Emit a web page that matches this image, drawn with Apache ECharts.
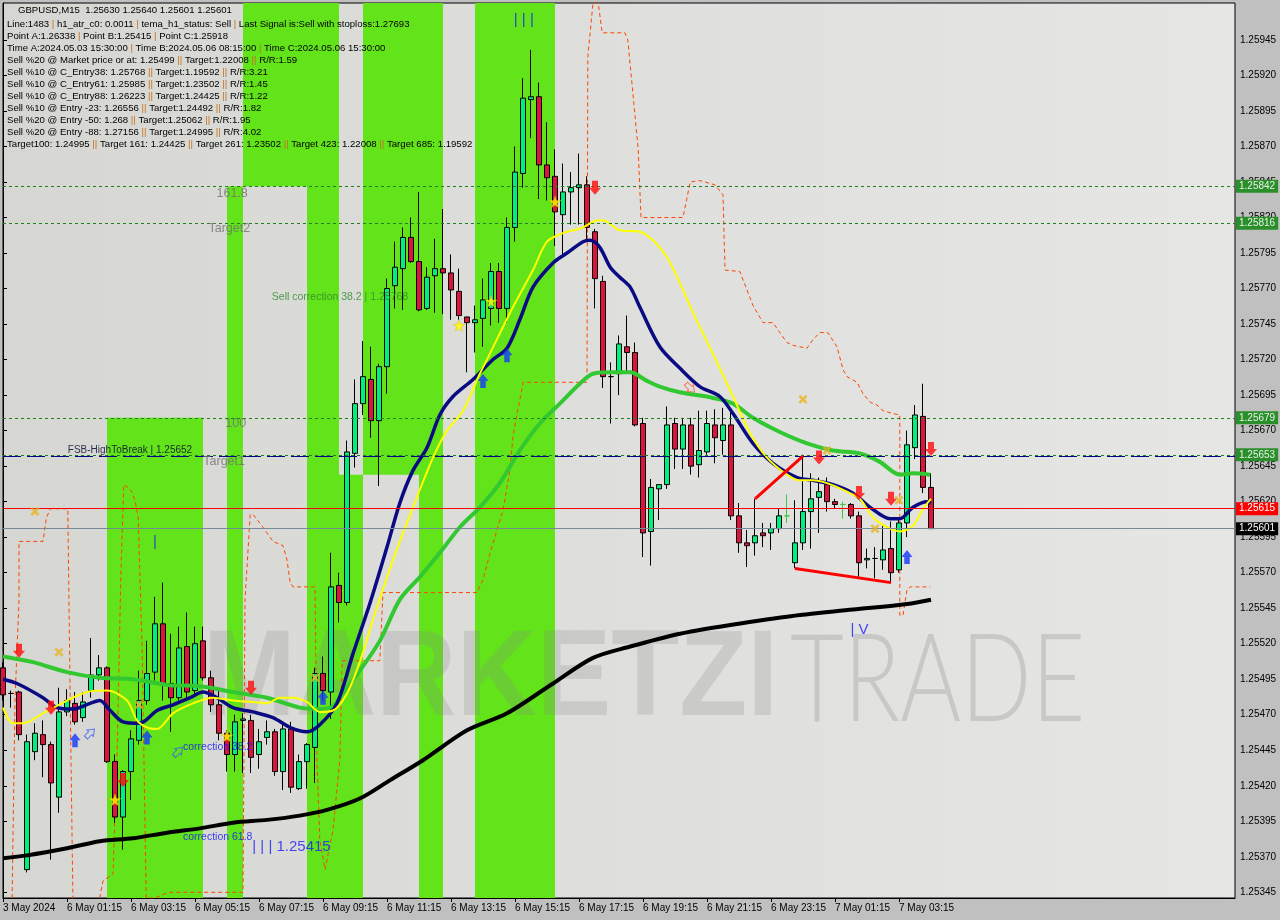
<!DOCTYPE html>
<html><head><meta charset="utf-8">
<script src="https://cdn.jsdelivr.net/npm/echarts@6/dist/echarts.min.js"></script>
<style>html,body{margin:0;padding:0;background:#c0c0c0}#c{width:1280px;height:920px}</style>
</head><body><div id="c"></div>
<script>
// ---------------- DATA ----------------
const yMin = 1.25341, yMax = 1.25971;
const nSlots = 155;
const tickLabels = ['3 May 2024','6 May 01:15','6 May 03:15','6 May 05:15','6 May 07:15','6 May 09:15','6 May 11:15','6 May 13:15','6 May 15:15','6 May 17:15','6 May 19:15','6 May 21:15','6 May 23:15','7 May 01:15','7 May 03:15'];
const priceTicks = [1.25345,1.2537,1.25395,1.2542,1.25445,1.2547,1.25495,1.2552,1.25545,1.2557,1.25595,1.2562,1.25645,1.2567,1.25695,1.2572,1.25745,1.2577,1.25795,1.2582,1.25845,1.2587,1.25895,1.2592,1.25945];

const openP = [1.25503,1.25485,1.25486,1.25361,1.25444,1.25456,1.25449,1.25412,1.25472,1.25478,1.25468,1.25487,1.25498,1.25503,1.25437,1.25398,1.25430,1.25452,1.25480,1.25500,1.25534,1.25492,1.25482,1.25518,1.25487,1.25522,1.25496,1.25477,1.25457,1.25442,1.25466,1.25466,1.25442,1.25454,1.25458,1.25430,1.25460,1.25418,1.25437,1.25447,1.25499,1.25486,1.25561,1.25549,1.25654,1.25689,1.25706,1.25677,1.25715,1.25772,1.25784,1.25806,1.25789,1.25756,1.25779,1.25784,1.25781,1.25768,1.25750,1.25746,1.25749,1.25756,1.25782,1.25756,1.25813,1.25851,1.25903,1.25905,1.25857,1.25849,1.25822,1.25838,1.25841,1.25843,1.25810,1.25775,1.25708,1.25710,1.25729,1.25725,1.25675,1.25599,1.25629,1.25632,1.25675,1.25657,1.25674,1.25646,1.25655,1.25674,1.25663,1.25674,1.25610,1.25591,1.25591,1.25598,1.25598,1.25601,1.25610,1.25577,1.25591,1.25613,1.25623,1.25632,1.25620,1.25618,1.25618,1.25610,1.25579,1.25580,1.25579,1.25587,1.25572,1.25605,1.25658,1.25680,1.25630];
const closeP = [1.25484,1.25485,1.25456,1.25451,1.25457,1.25449,1.25422,1.25472,1.25480,1.25465,1.25479,1.25498,1.25503,1.25437,1.25398,1.25430,1.25453,1.25480,1.25499,1.25534,1.25492,1.25482,1.25517,1.25486,1.25520,1.25496,1.25477,1.25457,1.25442,1.25465,1.25467,1.25440,1.25451,1.25458,1.25430,1.25460,1.25419,1.25437,1.25449,1.25499,1.25487,1.25560,1.25549,1.25655,1.25689,1.25708,1.25677,1.25715,1.25770,1.25785,1.25806,1.25789,1.25755,1.25778,1.25784,1.25781,1.25769,1.25751,1.25746,1.25748,1.25762,1.25782,1.25756,1.25813,1.25852,1.25904,1.25905,1.25857,1.25848,1.25824,1.25838,1.25841,1.25843,1.25813,1.25777,1.25708,1.25708,1.25731,1.25725,1.25674,1.25598,1.25630,1.25632,1.25674,1.25657,1.25674,1.25645,1.25656,1.25675,1.25665,1.25674,1.25610,1.25591,1.25589,1.25596,1.25596,1.25601,1.25610,1.25610,1.25591,1.25613,1.25622,1.25627,1.25620,1.25618,1.25618,1.25610,1.25577,1.25580,1.25580,1.25586,1.25570,1.25605,1.25660,1.25681,1.25630,1.25601];
const highP = [1.25507,1.25487,1.25487,1.25456,1.25464,1.25466,1.25451,1.25489,1.25488,1.25486,1.25486,1.25524,1.25512,1.25504,1.25442,1.25431,1.25459,1.25501,1.25522,1.25553,1.25563,1.25527,1.25532,1.25542,1.25532,1.25532,1.25501,1.25487,1.25459,1.25470,1.25471,1.25470,1.25460,1.25466,1.25460,1.25463,1.25465,1.25442,1.25450,1.25503,1.25511,1.25584,1.25570,1.25663,1.25706,1.25733,1.25729,1.25717,1.25777,1.25803,1.25813,1.25820,1.25838,1.25785,1.25805,1.25826,1.25794,1.25784,1.25750,1.25758,1.25777,1.25788,1.25788,1.25820,1.25870,1.25918,1.25938,1.25915,1.25887,1.25868,1.25858,1.25852,1.25865,1.25849,1.25812,1.25779,1.25718,1.25737,1.25751,1.25732,1.25679,1.25636,1.25632,1.25687,1.25679,1.25679,1.25679,1.25684,1.25684,1.25685,1.25686,1.25684,1.25619,1.25600,1.25622,1.25605,1.25605,1.25615,1.25625,1.25621,1.25653,1.25640,1.25637,1.25637,1.25622,1.25620,1.25619,1.25613,1.25587,1.25588,1.25603,1.25606,1.25609,1.25670,1.25688,1.25703,1.25640];
const lowP = [1.25480,1.25475,1.25452,1.25359,1.25438,1.25426,1.25368,1.25401,1.25469,1.25463,1.25465,1.25482,1.25494,1.25436,1.25394,1.25375,1.25410,1.25449,1.25477,1.25494,1.25480,1.25458,1.25480,1.25482,1.25484,1.25494,1.25472,1.25452,1.25430,1.25430,1.25429,1.25429,1.25432,1.25449,1.25427,1.25417,1.25415,1.25417,1.25418,1.25422,1.25480,1.25467,1.25535,1.25547,1.25644,1.25681,1.25665,1.25631,1.25696,1.25756,1.25755,1.25788,1.25754,1.25755,1.25753,1.25752,1.25748,1.25748,1.25711,1.25725,1.25729,1.25744,1.25746,1.25746,1.25803,1.25841,1.25876,1.25833,1.25832,1.25800,1.25794,1.25815,1.25815,1.25804,1.25756,1.25700,1.25675,1.25695,1.25711,1.25673,1.25581,1.25575,1.25607,1.25629,1.25643,1.25643,1.25639,1.25637,1.25653,1.25647,1.25653,1.25607,1.25584,1.25574,1.25582,1.25588,1.25586,1.25598,1.25605,1.25573,1.25586,1.25587,1.25598,1.25613,1.25615,1.25608,1.25608,1.25567,1.25573,1.25566,1.25572,1.25563,1.25570,1.25595,1.25650,1.25626,1.25601];
const greenDoji = [98, 105];

// moving averages read at bar positions [barIndex, price]
const blueLine = [[0,1.25495],[1.75,1.25492],[5,1.25482],[6.75,1.25475],[8.75,1.25474],[10.9,1.25478],[12.1,1.25480],[13.4,1.25473],[15,1.25465],[17.1,1.25464],[19.25,1.25473],[21.25,1.25477],[23.4,1.25482],[25,1.25486],[26.75,1.25482],[28.75,1.25475],[31.25,1.25472],[33.75,1.25468],[35.9,1.25461],[38,1.25458],[39.6,1.25463],[41.75,1.25478],[43.75,1.25513],[45.9,1.25549],[48,1.25588],[49.6,1.25619],[51.25,1.25642],[53,1.25658],[54.6,1.25681],[56.25,1.25694],[58.75,1.25706],[61.25,1.25720],[63,1.25728],[64.6,1.25748],[66.25,1.25771],[68.75,1.25788],[70.5,1.25795],[72.5,1.25803],[73.4,1.25804],[74.6,1.25799],[75.9,1.25785],[77.1,1.25778],[78.4,1.25771],[79.6,1.25757],[82.1,1.25729],[84.6,1.25714],[87.1,1.25701],[89.6,1.25694],[91.25,1.25682],[93.75,1.25661],[96.25,1.25647],[99.25,1.25637],[101.25,1.25635],[103.75,1.25632],[106.25,1.25626],[108.4,1.25616],[110.9,1.25608],[112.1,1.25608],[113.75,1.25616],[115.5,1.25620],[116,1.25619]];
const yellowLine = [[0,1.25475],[1.25,1.25464],[2.5,1.25464],[5,1.25471],[8,1.25480],[10.5,1.25486],[13,1.25487],[15.5,1.25480],[16.75,1.25466],[18,1.25461],[19.25,1.25460],[21.25,1.25471],[23.75,1.25478],[26.25,1.25482],[28.75,1.25480],[31.25,1.25479],[33,1.25478],[34.6,1.25482],[36.25,1.25482],[38,1.25479],[39.6,1.25472],[41.25,1.25473],[43,1.25485],[44.6,1.25507],[46.25,1.25537],[48.75,1.25579],[51.25,1.25616],[53.75,1.25651],[55.5,1.25670],[57.5,1.25684],[59.6,1.25710],[60.5,1.25720],[63.75,1.25757],[66.25,1.25783],[68,1.25803],[70,1.25809],[72.5,1.25813],[73.75,1.25817],[75,1.25818],[77.1,1.25811],[79.6,1.25810],[81.25,1.25804],[83,1.25792],[84.6,1.25774],[86.25,1.25753],[88.75,1.25724],[91.25,1.25694],[93.4,1.25668],[95.5,1.25651],[98,1.25639],[99.6,1.25635],[101.25,1.25635],[103,1.25633],[105.5,1.25627],[107.1,1.25622],[108.75,1.25609],[110.5,1.25602],[112.1,1.25599],[113.75,1.25603],[115,1.25615],[116,1.25622]];
const greenLine = [[0,1.25511],[3.75,1.25507],[8,1.25500],[12.1,1.25496],[16.25,1.25495],[20.5,1.25491],[24.6,1.25490],[28.75,1.25486],[33,1.25482],[37.1,1.25475],[39.6,1.25474],[41.25,1.25476],[42.1,1.25482],[44.6,1.25501],[47.1,1.25522],[49.6,1.25551],[52.1,1.25567],[54.6,1.25584],[57.1,1.25602],[59.6,1.25616],[62.1,1.25633],[64.6,1.25656],[67.1,1.25675],[69.6,1.25689],[72.1,1.25703],[73.75,1.25710],[76.25,1.25711],[78.4,1.25711],[80.5,1.25705],[82.1,1.25701],[84.6,1.25697],[88.75,1.25693],[91.25,1.25689],[93.75,1.25679],[97.1,1.25669],[100.5,1.25661],[103.75,1.25656],[107.1,1.25654],[109.6,1.25648],[112.1,1.25639],[113.75,1.25640],[115.9,1.25639]];
const blackLine = [[0,1.25369],[3,1.25371],[8,1.25376],[12.1,1.25381],[16.25,1.25383],[20.5,1.25387],[24.6,1.25390],[28.75,1.25394],[33,1.25396],[37.1,1.25399],[40.5,1.25403],[44.6,1.25411],[48.4,1.25424],[52.5,1.25438],[58,1.25459],[63,1.25471],[68.75,1.25492],[73.75,1.25510],[78.4,1.25518],[84.6,1.25527],[89.6,1.25532],[98,1.25539],[106.25,1.25544],[113,1.25548],[116,1.25551]];
const stopLine = [[1.125,1.25336],[1.5,1.25480],[2,1.25551],[2,1.25592],[5,1.25592],[5.4,1.25608],[5.9,1.25615],[8.1,1.25615],[8.4,1.25480],[8.75,1.25336],[11.9,1.25336],[12.5,1.25353],[13.75,1.25358],[14.25,1.25440],[14.75,1.25572],[15.1,1.25632],[15.6,1.25630],[16.1,1.25627],[16.5,1.25621],[16.9,1.25609],[17.4,1.25515],[17.9,1.25341],[19,1.25341],[20.25,1.25344],[21,1.25345],[30,1.25345],[30.25,1.25551],[30.9,1.25611],[31.25,1.25611],[32.5,1.25602],[33.75,1.25592],[35,1.25589],[35.5,1.25579],[35.9,1.25563],[36.25,1.25560],[39,1.25560],[39.25,1.25438],[39.6,1.25382],[40.25,1.25361],[41.25,1.25389],[42.1,1.25438],[42.4,1.25508],[47.1,1.25508],[47.5,1.25556],[59.25,1.25556],[60,1.25565],[60.9,1.25584],[61.75,1.25600],[62.5,1.25614],[63,1.25630],[63.4,1.25644],[63.75,1.25666],[64.25,1.25682],[64.9,1.25700],[65,1.25704],[73,1.25704],[73.1,1.25933],[73.75,1.25971],[74.4,1.25971],[74.9,1.25950],[77.75,1.25950],[78.1,1.25945],[79.4,1.25868],[79.75,1.25820],[85,1.25820],[85.9,1.25845],[87.1,1.25846],[89,1.25843],[90,1.25836],[90.25,1.25783],[92.1,1.25782],[93,1.25769],[93.75,1.25758],[95,1.25746],[96.25,1.25746],[97.1,1.25739],[98,1.25732],[98.75,1.25730],[100.5,1.25728],[101.25,1.25734],[102.1,1.25739],[103.1,1.25739],[104.25,1.25729],[105,1.25713],[105.5,1.25708],[106.75,1.25704],[107.5,1.25696],[108.4,1.25690],[109.25,1.25688],[110,1.25684],[111.25,1.25682],[112.1,1.25681],[112.1,1.25540],[112.5,1.25540],[113,1.25558],[113.4,1.25560],[115.9,1.25560]];

// green session bands: [fromBar, toBar, lowPrice, highPrice]
const greenBands = [[13,25,yMin,1.25679],[28,30,yMin,1.25842],[30,38,1.25842,yMax],[38,42,yMin,yMax],[42,45,yMin,1.25639],[45,52,1.25639,yMax],[52,55,yMin,yMax],[59,69,yMin,yMax]];

// horizontal levels
const levels = [
  {price:1.25842, kind:'green'}, {price:1.25816, kind:'green'}, {price:1.25679, kind:'green'},
  {price:1.25653, kind:'green'}, {price:1.25615, kind:'red'}, {price:1.25601, kind:'bid'}
];
const fsbLevel = 1.25652;

const trendLines = [[[94,1.25622],[100,1.25652]], [[99,1.25573],[111,1.25563]]];
const sellArrows = [[2,1.25515],[6,1.25475],[15,1.25424],[31,1.25489],[74,1.25841],[102,1.25651],[107,1.25626],[111,1.25622],[116,1.25657]];
const buyArrows = [[9,1.25452],[18,1.25454],[40,1.25482],[60,1.25705],[63,1.25723],[113,1.25581]];
const hollowBuy = [[10.9,1.25457],[21.9,1.25444]];
const hollowSell = [[85.9,1.25700]];
const stars = [[14,1.25410],[28,1.25455],[57,1.25744],[61,1.25761],[69,1.25831]];
const crosses = [[4,1.25613],[7,1.25514],[17,1.25477],[39,1.25496],[100,1.25692],[103,1.25656],[109,1.25601],[112,1.25621]];

const levelTexts = [['161.8',[30.6,1.25837]],['Target2',[30.9,1.25812]],['100',[30.4,1.25675]],['Target1',[30.25,1.25648]]];
const fsbText = [['FSB-HighToBreak | 1.25652',[8.1,1.25656]]];
const sellCorrText = [['Sell correction 38.2 | 1.25768',[33.6,1.25764]]];
const corrTexts = [['correction 38.2',[22.5,1.25447]],['correction 61.8',[22.5,1.25384]]];
const waveTexts = [['| | | 1.25415',[36.06,1.25377]],['| | |',[65.1,1.25959]],['| V',[107.06,1.25530]],['|',[19,1.25592]]];

const infoLines = [
 'GBPUSD,M15  1.25630 1.25640 1.25601 1.25601',
 'Line:1483 | h1_atr_c0: 0.0011 | tema_h1_status: Sell | Last Signal is:Sell with stoploss:1.27693',
 'Point A:1.26338 | Point B:1.25415 | Point C:1.25918',
 'Time A:2024.05.03 15:30:00 | Time B:2024.05.06 08:15:00 | Time C:2024.05.06 15:30:00',
 'Sell %20 @ Market price or at: 1.25499 || Target:1.22008 || R/R:1.59',
 'Sell %10 @ C_Entry38: 1.25768 || Target:1.19592 || R/R:3.21',
 'Sell %10 @ C_Entry61: 1.25985 || Target:1.23502 || R/R:1.45',
 'Sell %10 @ C_Entry88: 1.26223 || Target:1.24425 || R/R:1.22',
 'Sell %10 @ Entry -23: 1.26556 || Target:1.24492 || R/R:1.82',
 'Sell %20 @ Entry -50: 1.268 || Target:1.25062 || R/R:1.95',
 'Sell %20 @ Entry -88: 1.27156 || Target:1.24995 || R/R:4.02',
 'Target100: 1.24995 || Target 161: 1.24425 || Target 261: 1.23502 || Target 423: 1.22008 || Target 685: 1.19592'
];

// ---------------- BUILD ----------------
const categories = [];
(function(){ const t0 = Date.UTC(2024,4,3,23,15); for (let i=0;i<nSlots;i++){ const d=new Date(t0+i*900000);
  const p=n=>String(n).padStart(2,'0');
  categories.push(d.getUTCFullYear()+'.'+p(d.getUTCMonth()+1)+'.'+p(d.getUTCDate())+' '+p(d.getUTCHours())+':'+p(d.getUTCMinutes())); } })();

const candleData = openP.map((o,i)=>{
  const v=[o,closeP[i],lowP[i],highP[i]];
  if (greenDoji.indexOf(i)>=0) return {value:v, itemStyle:{borderColor:'#3cc83c',borderColor0:'#3cc83c',borderColorDoji:'#3cc83c'}};
  return v;
});

const FONT = '"Liberation Sans", Arial, sans-serif';
const showTick = i => i % 8 === 0 && (i/8) < tickLabels.length;

const chart = echarts.init(document.getElementById('c'), null, {renderer:'canvas'});

function textSeries(items, label, z){
  return {type:'scatter', xAxisIndex:1, yAxisIndex:0, z:z||8, silent:true, symbol:'circle', symbolSize:1,
    itemStyle:{color:'rgba(0,0,0,0)'},
    label:Object.assign({show:true, position:'inside', formatter:p=>p.name, fontFamily:FONT, verticalAlign:'middle'}, label),
    data: items.map(t=>({name:t[0], value:t[1]}))};
}
function markerSeries(pts, symbol, size, style, rotate, z){
  return {type:'scatter', xAxisIndex:1, yAxisIndex:0, z:z||7, silent:true, symbol, symbolSize:size, symbolRotate:rotate||0,
    itemStyle:style, data:pts};
}
const downArrow = 'path://M3,0 L9,0 L9,7 L12,7 L6,14 L0,7 L3,7 Z';
const upArrow = 'path://M6,0 L12,7 L9,7 L9,14 L3,14 L3,7 L0,7 Z';
const starPath = 'path://M50,0 L61,35 L98,35 L68,57 L79,91 L50,70 L21,91 L32,57 L2,35 L39,35 Z';
const crossPath = 'path://M0,2 L2,0 L5,3 L8,0 L10,2 L7,5 L10,8 L8,10 L5,7 L2,10 L0,8 L3,5 Z';

const tagStyle = {
  green:{bg:'#2a8f2a', fg:'#e6f2e6', line:{color:'#1f7f1f', type:[3,3], width:1}},
  red:{bg:'#ff0000', fg:'#ffffff', line:{color:'#ff0000', type:'solid', width:1}},
  bid:{bg:'#000000', fg:'#ffffff', line:{color:'#778899', type:'solid', width:1}}
};
const markLines = levels.map(l=>({
  yAxis:l.price, lineStyle:tagStyle[l.kind].line,
  label:{show:true, position:'end', distance:1, formatter:l.price.toFixed(5), backgroundColor:tagStyle[l.kind].bg,
    color:tagStyle[l.kind].fg, padding:[2,3,1,3], fontSize:10, fontFamily:FONT}
}));
markLines.unshift({yAxis:fsbLevel, lineStyle:{color:'#00008b', type:[18,6], width:1}, label:{show:false}});

const graphics = [
  {type:'text', z:1.5, x:203, y:681, scaleX:0.905, silent:true,
   style:{text:'MARKETZI', font:'bold 123px "Liberation Sans"', fill:'rgba(140,140,140,0.24)', verticalAlign:'middle', textVerticalAlign:'middle'}},
  {type:'text', z:1.5, x:790, y:681, scaleX:0.755, silent:true,
   style:{text:'TRADE', font:'300 123px Lato, "Liberation Sans"', fill:'rgba(140,140,140,0.30)', verticalAlign:'middle', textVerticalAlign:'middle'}}
];
const lineY = [10.7,24,36,48,60,72,84,96,108,120,132,144];
infoLines.forEach((s,i)=>{
  graphics.push({type:'text', z:20, x: i===0?18:7, y:lineY[i], silent:true,
    style:{text:s.replace(/\|\|?/g, m=>'{s|'+m+'}'), font:'9.6px "Liberation Sans"', fill:'#000',
      verticalAlign:'middle', textVerticalAlign:'middle', rich:{s:{fill:'#c8701e', font:'9.6px "Liberation Sans"'}}}});
});

const option = {
  animation:false,
  backgroundColor:'#c0c0c0',
  grid:{left:3, right:45, top:3, bottom:22, show:true, borderColor:'#000', borderWidth:1,
    backgroundColor:{type:'linear', x:0, y:0, x2:1, y2:0, colorStops:[{offset:0,color:'#d6d6d2'},{offset:0.6,color:'#e0e0de'},{offset:1,color:'#e6e6e4'}]}},
  xAxis:[
    {type:'category', data:categories, boundaryGap:false, position:'bottom',
     axisLine:{show:true, lineStyle:{color:'#000', width:1}},
     axisTick:{show:true, interval:showTick, length:4, lineStyle:{color:'#000'}},
     axisLabel:{interval:showTick, formatter:(v,i)=>tickLabels[i/8], align:'left', color:'#000', fontSize:10, fontFamily:FONT, margin:5},
     splitLine:{show:false}},
    {type:'value', min:0, max:nSlots-1, show:false}
  ],
  yAxis:{type:'value', position:'right', min:yMin, max:yMax, scale:true,
    axisLine:{show:true, lineStyle:{color:'#000'}},
    axisTick:{show:true, customValues:priceTicks, length:4, lineStyle:{color:'#000'}},
    axisLabel:{customValues:priceTicks, formatter:v=>v.toFixed(5), color:'#000', fontSize:10, fontFamily:FONT, margin:5},
    splitLine:{show:false}},
  graphic:graphics,
  series:[
    {type:'custom', xAxisIndex:1, yAxisIndex:0, z:1, silent:true, clip:true, data:greenBands,
     renderItem:(params, api)=>{
       const a = api.coord([api.value(0), api.value(3)]);
       const b = api.coord([api.value(1), api.value(2)]);
       return {type:'rect', shape:{x:a[0], y:a[1], width:b[0]-a[0], height:b[1]-a[1]}, style:{fill:'#62e31a'}};
     }},
    {type:'line', xAxisIndex:1, yAxisIndex:0, z:2, silent:true, symbol:'none', clip:true, data:stopLine,
     lineStyle:{color:'#ff4500', width:1, type:[4,3]}},
    {type:'candlestick', xAxisIndex:0, yAxisIndex:0, z:3, barWidth:6, clip:true, data:candleData,
     itemStyle:{color:'#00f07c', color0:'#dc143c', borderColor:'#000', borderColor0:'#000', borderColorDoji:'#000', borderWidth:1}},
    {type:'line', xAxisIndex:1, yAxisIndex:0, z:4, silent:true, symbol:'none', smooth:0.3, data:blackLine,
     lineStyle:{color:'#000', width:4},
     markLine:{silent:true, symbol:['none','none'], precision:5, data:markLines}},
    {type:'line', xAxisIndex:1, yAxisIndex:0, z:4, silent:true, symbol:'none', smooth:0.3, data:greenLine, lineStyle:{color:'#32c832', width:4}},
    {type:'line', xAxisIndex:1, yAxisIndex:0, z:4, silent:true, symbol:'none', smooth:0.3, data:blueLine, lineStyle:{color:'#0a0a82', width:3.5}},
    {type:'line', xAxisIndex:1, yAxisIndex:0, z:4, silent:true, symbol:'none', smooth:0.3, data:yellowLine, lineStyle:{color:'#ffff00', width:2}},
    ...trendLines.map(seg=>({type:'line', xAxisIndex:1, yAxisIndex:0, z:5, silent:true, symbol:'none', data:seg, lineStyle:{color:'#ff0000', width:3}})),
    markerSeries(sellArrows, downArrow, [12,14], {color:'#ff0a0a'}),
    markerSeries(buyArrows, upArrow, [11,14], {color:'#1438ff'}),
    markerSeries(hollowBuy, upArrow, [9,12], {color:'rgba(0,0,0,0)', borderColor:'#3a5aff', borderWidth:1}, -45),
    markerSeries(hollowSell, downArrow, [9,12], {color:'rgba(0,0,0,0)', borderColor:'#ff5a3a', borderWidth:1}, 45),
    markerSeries(stars, starPath, 12, {color:'#ffff00', borderColor:'#e0b000', borderWidth:0.5}),
    markerSeries(crosses, crossPath, 9, {color:'#e6b422'}),
    textSeries(levelTexts, {align:'right', color:'#707070', fontSize:12.5}),
    textSeries(fsbText, {align:'left', color:'#00002a', fontSize:10}),
    textSeries(sellCorrText, {align:'left', color:'#2a8a2a', fontSize:10.5}),
    textSeries(corrTexts, {align:'left', color:'#1010ff', fontSize:10.5}),
    textSeries(waveTexts, {align:'center', color:'#1a1aff', fontSize:15})
  ]
};
chart.setOption(option);
</script></body></html>
